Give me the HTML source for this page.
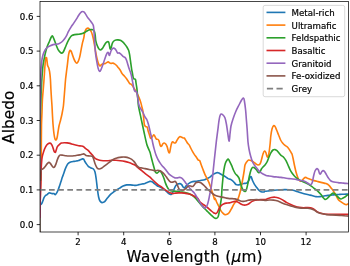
<!DOCTYPE html><html><head><meta charset="utf-8"><title>Albedo</title>
<style>html,body{margin:0;padding:0;background:#fff}svg{display:block}text{font-family:"DejaVu Sans","Liberation Sans",sans-serif;fill:#000;stroke:#000;stroke-width:0.18px}</style></head><body>
<svg width="350" height="266" viewBox="0 0 350 266" style="filter:blur(0.38px)">
<rect width="350" height="266" fill="#fff"/>
<defs><clipPath id="c"><rect x="40.0" y="1.5" width="308.6" height="230.5"/></clipPath></defs>
<g clip-path="url(#c)" fill="none" stroke-linejoin="round" stroke-linecap="butt" stroke-width="1.62">
<path d="M39.40 210.50C39.51 209.65 39.66 208.35 39.80 207.50C39.92 206.79 39.98 205.65 40.30 205.00C40.55 204.50 41.41 204.08 41.70 203.60C42.16 202.84 42.58 201.53 42.90 200.70C43.20 199.91 43.54 198.66 43.90 197.90C44.22 197.23 44.79 196.23 45.30 195.70C45.72 195.27 46.63 194.97 47.10 194.60C47.65 194.17 48.26 193.20 48.90 192.90C49.26 192.73 49.91 193.01 50.30 193.10C50.79 193.21 51.50 193.53 52.00 193.60C52.53 193.67 53.38 193.44 53.90 193.60C54.37 193.74 54.83 194.72 55.30 194.60C55.91 194.45 56.38 193.43 56.70 192.90C57.17 192.12 57.76 190.85 58.10 190.00C58.58 188.80 59.19 186.92 59.60 185.70C60.01 184.49 60.60 182.62 61.00 181.40C61.40 180.18 61.98 178.31 62.40 177.10C62.75 176.10 63.35 174.60 63.70 173.60C64.09 172.47 64.57 170.71 65.00 169.60C65.48 168.36 66.25 166.47 66.90 165.30C67.28 164.61 68.01 163.62 68.60 163.10C69.11 162.66 70.06 162.22 70.70 162.00C71.49 161.73 72.77 161.54 73.60 161.40C74.39 161.26 75.61 161.13 76.40 161.00C77.03 160.90 78.00 160.80 78.60 160.60C79.23 160.40 80.09 159.86 80.70 159.60C81.23 159.38 82.03 159.00 82.60 158.90C82.88 158.85 83.40 158.89 83.60 159.10C84.02 159.54 84.29 160.47 84.60 161.00C85.09 161.84 85.85 163.11 86.40 163.90C86.90 164.61 87.68 165.70 88.30 166.30C88.71 166.70 89.51 167.09 90.00 167.40C90.28 167.58 90.70 167.86 91.00 168.00C91.67 168.31 92.88 168.48 93.40 169.00C94.08 169.68 94.74 171.07 95.00 172.00C95.54 173.94 95.92 177.01 96.20 179.00C96.60 181.83 97.02 186.17 97.40 189.00C97.70 191.27 98.11 194.76 98.60 197.00C98.85 198.17 99.38 199.97 100.00 201.00C100.38 201.62 101.30 202.42 102.00 202.60C102.57 202.74 103.44 202.19 104.00 202.00C104.18 201.94 104.48 201.84 104.60 201.70C105.45 200.73 106.59 199.11 107.40 198.10C108.21 197.10 109.39 195.51 110.30 194.60C111.01 193.89 112.29 193.01 113.10 192.40C113.91 191.79 115.15 190.86 116.00 190.30C117.00 189.64 118.58 188.72 119.60 188.10C120.59 187.50 122.05 186.48 123.10 186.00C124.07 185.56 125.65 185.06 126.70 184.90C127.71 184.75 129.28 184.84 130.30 184.90C131.32 184.96 132.88 185.21 133.90 185.30C134.49 185.35 135.41 185.48 136.00 185.40C136.87 185.28 138.14 184.80 139.00 184.60C139.84 184.40 141.15 184.17 142.00 184.00C142.85 183.83 144.18 183.67 145.00 183.40C146.45 182.93 148.52 181.76 150.00 181.40C150.58 181.26 151.56 181.43 152.10 181.70C152.83 182.08 153.66 183.09 154.30 183.60C155.07 184.22 156.25 185.18 157.10 185.70C157.88 186.18 159.18 186.69 160.00 187.10C160.83 187.51 162.12 188.11 162.90 188.60C163.74 189.13 164.95 190.05 165.70 190.70C166.37 191.27 167.22 192.33 167.90 192.90C168.45 193.36 169.34 194.03 170.00 194.30C170.37 194.45 171.08 194.54 171.40 194.30C172.00 193.84 172.56 192.77 172.90 192.10C173.38 191.15 173.87 189.58 174.30 188.60C174.67 187.76 175.14 186.42 175.70 185.70C176.19 185.08 177.19 184.35 177.90 184.00C178.44 183.73 179.40 183.51 180.00 183.60C180.55 183.69 181.33 184.18 181.70 184.60C182.24 185.21 182.60 186.46 183.10 187.10C183.35 187.42 183.91 188.01 184.30 187.90C184.86 187.75 185.30 186.82 185.70 186.40C186.18 185.89 186.88 185.07 187.40 184.60C187.91 184.14 188.72 183.46 189.30 183.10C189.86 182.75 190.78 182.31 191.40 182.10C192.20 181.83 193.46 181.53 194.30 181.40C194.78 181.33 195.52 181.47 196.00 181.40C196.84 181.27 198.07 180.86 198.90 180.70C199.69 180.55 200.91 180.44 201.70 180.30C202.53 180.16 203.80 179.94 204.60 179.70C205.42 179.46 206.63 178.98 207.40 178.60C208.25 178.18 209.54 177.47 210.30 176.90C211.16 176.25 212.21 174.92 213.10 174.30C213.85 173.78 215.15 173.24 216.00 172.90C216.38 172.75 217.00 172.57 217.40 172.60C217.85 172.63 218.49 172.91 218.90 173.10C219.52 173.39 220.39 173.98 221.00 174.30C221.81 174.72 223.10 175.25 223.90 175.70C224.52 176.05 225.41 176.69 226.00 177.10C226.60 177.52 227.45 178.27 228.10 178.60C228.68 178.90 229.71 179.01 230.30 179.30C230.94 179.61 231.85 180.24 232.40 180.70C233.08 181.27 234.00 182.25 234.60 182.90C235.02 183.36 235.43 184.34 236.00 184.60C236.75 184.95 238.08 185.00 238.90 184.90C239.74 184.80 240.89 184.11 241.70 183.90C242.51 183.69 243.78 183.53 244.60 183.40C245.19 183.31 246.21 183.45 246.70 183.10C247.52 182.51 248.39 181.17 248.90 180.30C249.42 179.40 249.74 177.78 250.30 176.90C250.44 176.68 251.06 176.48 251.20 176.70C251.76 177.61 251.97 179.31 252.40 180.30C252.94 181.56 253.89 183.43 254.60 184.60C255.11 185.45 256.10 186.61 256.70 187.40C257.32 188.22 258.17 189.57 258.90 190.30C259.41 190.81 260.32 191.47 261.00 191.70C261.78 191.97 263.08 192.08 263.90 192.00C264.27 191.96 264.64 191.38 265.00 191.30C266.11 191.06 267.87 191.01 269.00 190.90C270.13 190.79 271.87 190.63 273.00 190.50C274.13 190.37 275.86 190.11 277.00 190.00C278.13 189.89 279.86 189.76 281.00 189.70C282.13 189.64 283.87 189.60 285.00 189.60C286.13 189.60 287.87 189.60 289.00 189.70C290.14 189.80 291.88 190.06 293.00 190.30C293.87 190.49 295.16 190.92 296.00 191.20C297.14 191.57 298.85 192.24 300.00 192.60C301.12 192.95 302.86 193.41 304.00 193.70C305.30 194.03 307.29 194.51 308.60 194.80C309.56 195.02 311.04 195.27 312.00 195.50C313.14 195.78 314.84 196.44 316.00 196.60C317.12 196.75 318.87 196.68 320.00 196.60C321.14 196.51 322.87 196.17 324.00 196.00C325.13 195.83 326.86 195.54 328.00 195.40C329.13 195.26 330.87 195.11 332.00 195.00C333.13 194.89 334.86 194.69 336.00 194.60C337.13 194.52 338.87 194.46 340.00 194.40C341.13 194.34 342.87 194.25 344.00 194.20C345.30 194.14 347.30 194.06 348.60 194.00" stroke="#1f77b4"/>
<path d="M40.00 232.00C40.00 222.93 39.90 209.07 40.00 200.00C40.05 195.75 40.35 189.25 40.50 185.00C40.67 180.18 40.99 172.82 41.10 168.00C41.22 162.90 41.25 155.10 41.30 150.00C41.37 142.92 41.37 132.08 41.50 125.00C41.57 121.31 41.87 115.68 42.00 112.00C42.12 108.52 42.22 103.18 42.40 99.70C42.53 97.26 42.90 93.54 43.10 91.10C43.33 88.27 43.68 83.93 43.90 81.10C44.05 79.09 44.26 76.01 44.40 74.00C44.57 71.45 44.78 67.55 45.00 65.00C45.18 62.96 45.39 59.81 45.80 57.80C45.84 57.60 46.43 57.41 46.50 57.60C46.87 58.65 46.95 60.39 47.10 61.50C47.26 62.63 47.32 64.39 47.60 65.50C47.75 66.11 48.41 66.90 48.60 67.50C48.98 68.66 49.41 70.49 49.60 71.70C49.92 73.76 50.24 76.93 50.40 79.00C50.61 81.83 50.74 86.17 50.90 89.00C51.06 91.83 51.32 96.17 51.50 99.00C51.63 100.98 51.88 104.02 52.00 106.00C52.14 108.27 52.27 111.73 52.40 114.00C52.56 116.83 52.77 121.17 53.00 124.00C53.23 126.84 53.62 131.18 54.00 134.00C54.19 135.43 54.54 137.63 55.00 139.00C55.13 139.38 55.64 140.18 56.00 140.00C56.57 139.72 56.85 138.61 57.00 138.00C57.42 136.33 57.72 133.70 58.00 132.00C58.28 130.30 58.64 127.68 59.00 126.00C59.37 124.28 60.17 121.71 60.60 120.00C61.02 118.31 61.66 115.71 62.00 114.00C62.45 111.74 63.10 108.28 63.40 106.00C63.66 104.03 63.84 100.98 64.00 99.00C64.23 96.17 64.57 91.83 64.80 89.00C65.03 86.17 65.32 81.83 65.60 79.00C65.86 76.44 66.38 72.55 66.70 70.00C66.89 68.47 67.21 66.13 67.40 64.60C67.75 61.77 68.09 57.41 68.60 54.60C68.83 53.34 69.29 51.37 70.00 50.30C70.19 50.01 70.83 50.70 71.00 51.00C71.53 51.96 72.02 53.57 72.40 54.60C72.84 55.81 73.41 57.71 73.90 58.90C74.24 59.72 74.81 60.96 75.30 61.70C75.61 62.17 76.14 63.10 76.70 63.10C77.26 63.10 77.85 62.20 78.10 61.70C78.69 60.55 79.28 58.65 79.60 57.40C80.11 55.41 80.61 52.31 81.00 50.30C81.40 48.26 81.94 45.13 82.40 43.10C82.77 41.47 83.55 39.03 83.90 37.40C84.17 36.14 84.28 34.15 84.60 32.90C84.87 31.84 85.41 30.22 86.00 29.30C86.32 28.80 87.11 28.10 87.70 28.10C88.34 28.10 89.16 28.84 89.60 29.30C90.23 29.97 91.01 31.17 91.40 32.00C91.87 33.00 92.31 34.64 92.60 35.70C92.93 36.91 93.35 38.77 93.60 40.00C93.89 41.41 94.26 43.58 94.50 45.00C94.82 46.90 95.25 49.81 95.60 51.70C95.98 53.75 96.60 56.88 97.10 58.90C97.45 60.34 98.04 62.53 98.60 63.90C98.87 64.56 99.31 65.83 100.00 66.00C100.54 66.14 100.94 64.91 101.40 64.60C101.83 64.31 102.60 64.05 103.10 63.90C103.71 63.71 104.70 63.62 105.30 63.40C105.85 63.20 106.60 62.70 107.10 62.40C107.40 62.22 107.76 61.63 108.10 61.70C108.63 61.81 109.13 62.62 109.60 62.90C109.96 63.11 110.58 63.37 111.00 63.40C111.54 63.43 112.36 63.03 112.90 63.10C113.43 63.17 114.15 63.61 114.60 63.90C115.12 64.24 115.86 64.86 116.30 65.30C116.85 65.85 117.61 66.79 118.10 67.40C118.74 68.21 119.74 69.43 120.30 70.30C120.88 71.19 121.49 72.73 122.10 73.60C122.63 74.36 123.70 75.30 124.30 76.00C124.92 76.72 125.84 77.84 126.40 78.60C126.97 79.37 127.77 80.60 128.30 81.40C128.71 82.02 129.16 83.10 129.70 83.60C130.08 83.96 131.01 83.96 131.40 84.30C131.95 84.78 132.49 85.79 132.90 86.40C133.31 87.01 133.91 87.97 134.30 88.60C134.79 89.39 135.54 90.59 136.00 91.40C136.57 92.41 137.41 93.96 137.90 95.00C138.46 96.20 139.24 98.06 139.70 99.30C140.15 100.50 140.75 102.37 141.10 103.60C141.37 104.55 141.67 106.04 141.90 107.00C142.18 108.16 142.71 109.92 142.90 111.10C143.22 113.13 143.47 116.26 143.70 118.30C143.90 120.11 143.97 122.93 144.40 124.70C144.55 125.33 145.19 126.19 145.70 126.60C146.01 126.86 146.89 126.55 147.10 126.90C147.63 127.78 147.71 129.42 148.00 130.40C148.36 131.63 149.00 133.48 149.40 134.70C149.74 135.75 150.03 137.46 150.60 138.40C150.73 138.62 151.23 138.19 151.40 138.00C151.90 137.46 152.43 136.46 152.90 135.90C153.17 135.58 153.60 134.77 154.00 134.90C154.53 135.08 154.72 136.11 155.00 136.60C155.40 137.30 155.82 138.54 156.40 139.10C156.71 139.40 157.53 139.18 157.90 139.40C158.28 139.63 158.73 140.19 158.90 140.60C159.25 141.44 159.43 142.83 159.70 143.70C159.94 144.45 160.17 145.72 160.70 146.30C160.91 146.53 161.50 146.13 161.70 145.90C162.16 145.36 162.43 144.23 162.90 143.70C163.20 143.37 163.86 142.95 164.30 143.00C164.78 143.05 165.40 143.62 165.70 144.00C166.21 144.66 166.80 145.82 167.10 146.60C167.55 147.78 167.89 149.70 168.30 150.90C168.51 151.52 168.64 153.00 169.30 153.00C169.93 153.00 169.86 151.51 170.00 150.90C170.37 149.27 170.70 146.72 171.10 145.10C171.30 144.28 171.64 143.01 172.10 142.30C172.26 142.05 172.82 141.91 173.10 142.00C173.52 142.13 173.87 142.90 174.30 143.00C174.70 143.09 175.41 142.90 175.70 142.60C176.26 142.02 176.69 140.80 177.10 140.10C177.51 139.41 178.09 138.32 178.60 137.70C178.92 137.31 179.50 136.66 180.00 136.60C180.52 136.53 181.23 137.09 181.70 137.30C182.10 137.48 182.67 137.88 183.10 138.00C183.43 138.09 184.04 137.79 184.30 138.00C184.86 138.45 185.32 139.49 185.70 140.10C186.20 140.91 186.84 142.23 187.40 143.00C187.87 143.65 188.86 144.43 189.30 145.10C189.80 145.86 190.29 147.19 190.70 148.00C191.22 149.03 192.03 150.59 192.60 151.60C193.06 152.41 193.79 153.63 194.30 154.40C194.86 155.24 195.82 156.47 196.40 157.30C196.95 158.08 197.62 159.42 198.30 160.10C198.57 160.37 199.39 160.18 199.60 160.50C200.22 161.47 200.60 163.23 201.00 164.30C201.53 165.72 202.35 167.89 202.90 169.30C203.45 170.72 204.27 172.91 204.90 174.30C205.46 175.55 206.50 177.37 207.10 178.60C207.69 179.81 208.59 181.66 209.10 182.90C209.58 184.07 210.19 185.90 210.60 187.10C211.01 188.31 211.60 190.18 212.00 191.40C212.40 192.62 213.01 194.48 213.40 195.70C213.75 196.78 213.99 198.55 214.60 199.50C214.81 199.82 214.74 197.91 215.00 198.20C215.68 198.95 215.97 200.58 216.40 201.50C216.99 202.79 217.98 204.72 218.60 206.00C219.20 207.22 220.00 209.14 220.70 210.30C221.22 211.16 222.19 212.39 222.90 213.10C223.42 213.62 224.30 214.40 225.00 214.60C225.58 214.77 226.56 214.57 227.10 214.30C227.83 213.92 228.79 213.04 229.30 212.40C230.02 211.50 230.84 209.91 231.40 208.90C232.06 207.70 232.90 205.77 233.60 204.60C234.12 203.73 235.07 202.49 235.70 201.70C236.20 201.07 237.20 200.29 237.60 199.60C238.15 198.65 238.66 197.04 239.00 196.00C239.46 194.60 240.06 192.43 240.40 191.00C240.74 189.60 241.12 187.42 241.40 186.00C241.68 184.58 242.13 182.42 242.40 181.00C242.70 179.44 243.13 177.06 243.40 175.50C243.67 173.94 244.06 171.56 244.30 170.00C244.52 168.59 244.60 166.37 245.00 165.00C245.27 164.07 246.04 162.78 246.60 162.00C247.07 161.35 247.84 160.24 248.60 160.00C249.27 159.79 250.35 160.33 251.00 160.60C251.73 160.90 252.75 161.56 253.40 162.00C254.17 162.52 255.22 163.49 256.00 164.00C256.53 164.35 257.37 165.00 258.00 165.00C258.63 165.00 259.64 164.52 260.00 164.00C260.68 163.01 261.05 161.15 261.40 160.00C261.91 158.31 262.41 155.66 263.00 154.00C263.32 153.09 263.69 151.30 264.60 151.00C265.26 150.78 265.71 152.37 266.00 153.00C266.51 154.09 266.45 156.27 267.40 157.00C267.92 157.40 268.42 155.64 268.60 155.00C268.99 153.62 269.21 151.42 269.40 150.00C269.66 148.02 270.00 144.99 270.20 143.00C270.40 141.02 270.55 137.97 270.80 136.00C271.06 134.00 271.48 130.94 272.00 129.00C272.28 127.97 272.80 126.30 273.60 125.60C273.95 125.30 274.74 126.02 275.00 126.40C275.63 127.32 276.17 128.97 276.60 130.00C277.19 131.41 278.03 133.58 278.60 135.00C279.17 136.42 279.92 138.64 280.60 140.00C281.06 140.91 281.95 142.21 282.60 143.00C283.21 143.75 284.26 144.78 285.00 145.40C285.63 145.92 286.81 146.44 287.40 147.00C288.07 147.64 288.88 148.83 289.40 149.60C289.91 150.36 290.54 151.61 291.00 152.40C291.27 152.86 291.82 153.50 292.00 154.00C292.39 155.10 292.75 156.86 293.00 158.00C293.43 159.98 293.98 163.02 294.40 165.00C294.83 166.99 295.46 170.04 296.00 172.00C296.48 173.73 297.27 176.36 298.00 178.00C298.41 178.93 299.14 180.44 300.00 181.00C300.48 181.31 301.52 180.92 302.00 180.60C302.60 180.20 303.06 179.08 303.60 178.60C304.09 178.16 304.94 177.40 305.60 177.40C306.36 177.40 307.30 178.31 308.00 178.60C308.83 178.94 310.15 179.32 311.00 179.60C311.85 179.88 313.14 180.35 314.00 180.60C315.12 180.92 316.87 181.32 318.00 181.60C319.13 181.88 320.87 182.32 322.00 182.60C323.13 182.88 324.92 183.17 326.00 183.60C326.92 183.97 328.26 184.74 329.00 185.40C329.87 186.18 330.89 187.67 331.60 188.60C332.19 189.37 333.06 190.59 333.60 191.40C334.19 192.29 335.06 193.68 335.60 194.60C336.48 196.11 337.53 198.62 338.60 200.00C339.21 200.78 340.59 201.53 341.40 202.10C342.20 202.66 343.42 203.56 344.30 204.00C344.85 204.28 345.78 204.66 346.40 204.60C347.08 204.54 347.98 203.88 348.60 203.60" stroke="#ff7f0e"/>
<path d="M39.70 232.00C39.70 207.35 39.61 169.65 39.70 145.00C39.72 138.48 39.95 128.52 40.10 122.00C40.18 118.60 40.38 113.40 40.50 110.00C40.60 107.17 40.79 102.83 40.90 100.00C41.01 97.17 41.17 92.83 41.30 90.00C41.40 87.73 41.57 84.27 41.70 82.00C41.82 79.85 42.03 76.55 42.20 74.40C42.42 71.62 42.73 67.36 43.10 64.60C43.41 62.29 44.13 58.79 44.60 56.50C44.95 54.79 45.55 52.19 46.00 50.50C46.34 49.21 46.93 47.25 47.40 46.00C47.95 44.55 48.98 42.42 49.60 41.00C50.09 39.87 50.70 38.07 51.30 37.00C51.51 36.63 52.06 35.75 52.40 36.00C53.15 36.55 53.54 38.05 53.90 38.90C54.56 40.49 55.37 43.00 56.00 44.60C56.56 46.03 57.36 48.25 58.10 49.60C58.59 50.48 59.58 51.70 60.30 52.40C60.62 52.71 61.27 53.20 61.70 53.10C62.31 52.96 63.07 52.23 63.40 51.70C64.11 50.57 64.77 48.62 65.30 47.40C65.91 45.99 66.74 43.79 67.40 42.40C67.96 41.21 68.90 39.41 69.60 38.30C70.12 37.48 70.92 36.18 71.70 35.60C72.40 35.08 73.74 34.75 74.60 34.60C75.80 34.38 77.69 34.46 78.90 34.30C79.90 34.17 81.44 33.93 82.40 33.60C83.27 33.30 84.50 32.56 85.30 32.10C85.92 31.74 86.78 31.05 87.40 30.70C88.00 30.37 88.94 29.87 89.60 29.70C90.18 29.55 91.11 29.55 91.70 29.60C92.19 29.64 93.03 29.68 93.40 30.00C93.92 30.45 94.39 31.45 94.60 32.10C94.94 33.17 95.15 34.89 95.30 36.00C95.46 37.21 95.47 39.10 95.70 40.30C95.98 41.74 96.59 43.92 97.10 45.30C97.50 46.37 98.26 47.96 98.90 48.90C99.18 49.32 99.80 50.00 100.30 50.00C100.87 50.00 101.62 49.33 102.00 48.90C102.66 48.17 103.37 46.83 103.90 46.00C104.42 45.18 105.09 43.85 105.70 43.10C106.09 42.62 106.82 41.92 107.40 41.70C107.73 41.58 108.41 41.71 108.60 42.00C109.02 42.64 109.14 43.85 109.30 44.60C109.54 45.73 109.68 47.49 110.00 48.60C110.06 48.81 110.47 49.28 110.60 49.10C111.03 48.52 111.19 47.39 111.40 46.70C111.70 45.69 111.97 44.07 112.40 43.10C112.69 42.43 113.35 41.48 113.90 41.00C114.40 40.57 115.36 40.17 116.00 40.00C116.58 39.85 117.51 39.86 118.10 39.90C118.73 39.94 119.72 40.06 120.30 40.30C120.96 40.58 121.85 41.24 122.40 41.70C123.08 42.27 124.03 43.23 124.60 43.90C125.25 44.65 126.17 45.86 126.70 46.70C127.31 47.68 128.20 49.22 128.60 50.30C129.03 51.47 129.38 53.37 129.60 54.60C129.86 56.01 130.10 58.18 130.30 59.60C130.50 61.02 130.80 63.18 131.00 64.60C131.20 66.02 131.46 68.19 131.70 69.60C131.86 70.57 132.22 72.03 132.40 73.00C132.64 74.27 132.88 76.25 133.20 77.50C133.30 77.91 133.58 78.54 133.90 78.80C134.25 79.08 135.20 78.90 135.40 79.30C135.87 80.22 135.84 81.88 136.00 82.90C136.26 84.51 136.70 86.98 136.90 88.60C137.10 90.21 137.26 92.69 137.40 94.30C137.54 95.91 137.75 98.39 137.90 100.00C138.06 101.70 138.21 104.32 138.50 106.00C139.09 109.42 140.28 114.60 141.00 118.00C141.84 121.97 143.12 128.04 144.00 132.00C144.82 135.69 145.93 141.37 147.00 145.00C147.63 147.14 149.25 150.19 150.00 152.30C150.42 153.49 150.79 155.38 151.10 156.60C151.38 157.71 151.81 159.40 152.10 160.50C152.38 161.58 152.81 163.23 153.10 164.30C153.43 165.52 153.94 167.39 154.30 168.60C154.59 169.60 154.88 171.20 155.40 172.10C155.66 172.54 156.39 173.10 156.90 173.10C157.39 173.10 157.90 172.38 158.30 172.10C158.70 171.82 159.21 171.10 159.70 171.10C160.19 171.10 160.81 171.71 161.10 172.10C161.65 172.84 162.22 174.16 162.60 175.00C163.05 176.00 163.63 177.57 164.00 178.60C164.43 179.81 164.95 181.70 165.40 182.90C165.78 183.91 166.42 185.44 166.90 186.40C167.33 187.25 167.97 188.59 168.60 189.30C169.07 189.84 170.03 190.46 170.70 190.70C171.48 190.98 172.78 191.00 173.60 191.10C174.39 191.20 175.61 191.32 176.40 191.40C177.22 191.49 178.48 191.60 179.30 191.70C180.10 191.80 181.31 191.98 182.10 192.10C182.92 192.23 184.18 192.43 185.00 192.60C185.83 192.77 187.10 193.03 187.90 193.30C188.72 193.57 189.93 194.10 190.70 194.50C191.36 194.84 192.30 195.47 192.90 195.90C193.52 196.35 194.46 197.06 195.00 197.60C195.63 198.23 196.42 199.33 197.00 200.00C198.12 201.31 199.85 203.31 201.00 204.60C202.12 205.86 203.84 207.78 205.00 209.00C205.83 209.87 207.15 211.15 208.00 212.00C208.85 212.85 210.12 214.18 211.00 215.00C211.82 215.77 213.07 216.97 214.00 217.60C214.50 217.94 215.40 218.49 216.00 218.40C216.68 218.30 217.69 217.62 218.00 217.00C218.65 215.70 218.93 213.43 219.20 212.00C219.58 210.03 219.99 206.98 220.30 205.00C220.61 203.02 221.19 200.00 221.40 198.00C221.68 195.35 221.79 191.26 222.00 188.60C222.22 185.76 222.61 181.43 222.90 178.60C223.15 176.16 223.51 172.42 223.90 170.00C224.19 168.17 224.73 165.37 225.30 163.60C225.65 162.51 226.44 160.93 227.10 160.00C227.35 159.65 228.02 158.99 228.40 159.20C229.02 159.55 229.28 160.77 229.60 161.40C230.21 162.61 231.15 164.46 231.70 165.70C232.23 166.90 232.86 168.81 233.40 170.00C233.88 171.05 234.64 172.66 235.30 173.60C235.78 174.29 236.86 175.05 237.40 175.70C237.88 176.28 238.59 177.21 238.90 177.90C239.33 178.85 239.71 180.40 240.00 181.40C240.42 182.81 240.90 185.02 241.40 186.40C241.78 187.46 242.41 189.10 243.10 190.00C243.56 190.60 244.57 191.71 245.30 191.50C246.07 191.28 246.36 189.76 246.60 189.00C247.13 187.34 247.63 184.71 248.00 183.00C248.43 181.02 248.95 177.97 249.40 176.00C249.80 174.29 250.39 171.65 251.00 170.00C251.30 169.19 251.84 167.82 252.60 167.40C253.12 167.11 254.10 167.68 254.60 168.00C255.27 168.44 256.07 169.40 256.60 170.00C257.21 170.70 257.80 172.13 258.60 172.60C258.97 172.82 259.74 172.34 260.00 172.00C260.58 171.26 260.92 169.80 261.40 169.00C261.77 168.38 262.51 167.54 263.00 167.00C263.54 166.40 264.50 165.63 265.00 165.00C265.64 164.20 266.54 162.91 267.00 162.00C267.68 160.64 268.40 158.40 269.00 157.00C269.54 155.74 270.32 153.79 271.00 152.60C271.46 151.79 272.26 150.56 273.00 150.00C273.46 149.65 274.43 149.51 275.00 149.60C275.63 149.69 276.52 150.19 277.00 150.60C277.67 151.17 278.43 152.32 279.00 153.00C279.57 153.68 280.35 154.80 281.00 155.40C281.60 155.95 282.83 156.41 283.40 157.00C284.27 157.91 285.37 159.51 286.00 160.60C286.68 161.79 287.44 163.75 288.00 165.00C288.58 166.30 289.36 168.33 290.00 169.60C290.50 170.60 291.37 172.08 292.00 173.00C292.62 173.90 293.66 175.20 294.40 176.00C295.08 176.74 296.21 177.78 297.00 178.40C297.80 179.03 299.11 179.90 300.00 180.40C300.82 180.86 302.14 181.43 303.00 181.80C303.84 182.16 305.17 182.61 306.00 183.00C306.87 183.41 308.17 184.10 309.00 184.60C309.88 185.13 311.18 186.00 312.00 186.60C312.88 187.24 314.15 188.32 315.00 189.00C315.85 189.68 317.20 190.66 318.00 191.40C318.91 192.25 320.20 193.65 321.00 194.60C321.62 195.35 322.38 196.65 323.00 197.40C323.51 198.02 324.23 199.17 325.00 199.40C325.58 199.58 326.50 198.95 327.00 198.60C327.66 198.14 328.43 197.17 329.00 196.60C329.57 196.03 330.40 195.14 331.00 194.60C331.54 194.11 332.28 193.11 333.00 193.00C333.63 192.91 334.49 193.62 335.00 194.00C335.64 194.48 336.43 195.43 337.00 196.00C337.57 196.57 338.36 197.52 339.00 198.00C339.51 198.38 340.37 199.00 341.00 199.00C341.63 199.00 342.43 198.28 343.00 198.00C343.57 197.72 344.47 197.35 345.00 197.00C345.61 196.60 346.40 195.80 347.00 195.40C347.42 195.12 348.15 194.83 348.60 194.60" stroke="#2ca02c"/>
<path d="M40.00 218.00C40.06 213.47 40.10 206.53 40.20 202.00C40.27 199.17 40.50 194.83 40.60 192.00C40.70 189.17 40.83 184.83 40.90 182.00C40.97 179.17 41.02 174.83 41.10 172.00C41.16 169.90 41.26 166.69 41.40 164.60C41.54 162.56 41.76 159.42 42.10 157.40C42.38 155.75 43.07 153.28 43.60 151.70C44.09 150.24 44.96 148.05 45.70 146.70C46.19 145.82 47.13 144.55 47.90 143.90C48.39 143.49 49.37 142.98 50.00 143.10C50.63 143.22 51.36 144.05 51.70 144.60C52.26 145.51 52.73 147.10 53.10 148.10C53.47 149.11 53.81 150.74 54.30 151.70C54.46 152.01 55.03 152.61 55.30 152.40C55.80 152.01 55.88 150.90 56.10 150.30C56.47 149.28 56.87 147.65 57.40 146.70C57.79 146.00 58.70 145.14 59.30 144.60C59.84 144.11 60.72 143.36 61.40 143.10C62.18 142.81 63.47 142.73 64.30 142.70C65.09 142.67 66.31 142.80 67.10 142.90C67.93 143.00 69.19 143.20 70.00 143.40C70.84 143.60 72.07 144.07 72.90 144.30C73.69 144.52 74.91 144.80 75.70 145.00C76.52 145.20 77.77 145.55 78.60 145.70C79.39 145.84 80.62 145.84 81.40 146.00C82.04 146.13 83.04 146.36 83.60 146.70C84.29 147.12 85.07 148.10 85.70 148.60C86.35 149.12 87.49 149.73 88.10 150.30C88.80 150.96 89.65 152.19 90.30 152.90C90.87 153.52 91.85 154.36 92.40 155.00C93.07 155.78 93.87 157.17 94.60 157.90C95.11 158.41 96.06 158.99 96.70 159.30C97.48 159.68 98.75 160.11 99.60 160.30C100.58 160.51 102.10 160.65 103.10 160.70C104.32 160.76 106.18 160.76 107.40 160.70C108.62 160.64 110.48 160.36 111.70 160.30C112.92 160.24 114.78 160.24 116.00 160.30C117.22 160.36 119.09 160.54 120.30 160.70C121.52 160.86 123.39 161.13 124.60 161.40C125.84 161.67 127.70 162.20 128.90 162.60C129.91 162.94 131.42 163.57 132.40 164.00C133.43 164.45 135.06 165.08 136.00 165.70C136.39 165.95 136.65 166.70 137.00 167.00C138.07 167.92 139.89 169.12 141.00 170.00C142.16 170.93 143.83 172.48 145.00 173.40C146.38 174.49 148.64 175.97 150.00 177.10C150.66 177.65 151.49 178.69 152.10 179.30C152.91 180.11 154.16 181.33 155.00 182.10C155.80 182.83 157.03 183.95 157.90 184.60C158.65 185.17 159.93 185.86 160.70 186.40C161.54 186.99 162.78 187.98 163.60 188.60C164.39 189.20 165.59 190.13 166.40 190.70C167.01 191.12 167.95 191.74 168.60 192.10C169.18 192.42 170.08 192.88 170.70 193.10C171.30 193.31 172.26 193.60 172.90 193.60C173.71 193.60 174.90 193.20 175.70 193.10C176.52 193.00 177.78 192.93 178.60 192.90C179.39 192.87 180.61 192.87 181.40 192.90C182.22 192.93 183.48 193.00 184.30 193.10C185.10 193.20 186.31 193.43 187.10 193.60C187.93 193.77 189.19 194.05 190.00 194.30C190.84 194.56 192.10 195.04 192.90 195.40C193.72 195.77 194.94 196.43 195.70 196.90C196.36 197.31 197.40 197.91 197.90 198.50C198.65 199.38 199.21 201.16 200.00 202.00C200.97 203.03 202.87 204.15 204.00 205.00C205.13 205.85 206.90 207.11 208.00 208.00C209.00 208.81 210.41 210.18 211.40 211.00C212.11 211.59 213.22 212.50 214.00 213.00C214.25 213.16 214.72 213.22 215.00 213.30C215.28 213.39 215.72 213.69 216.00 213.60C216.40 213.47 216.86 212.94 217.10 212.60C217.49 212.05 217.90 211.10 218.20 210.50C218.53 209.83 218.91 208.74 219.30 208.10C219.82 207.26 220.69 205.99 221.40 205.30C221.93 204.78 222.92 204.20 223.60 203.90C224.36 203.57 225.59 203.24 226.40 203.10C227.21 202.96 228.49 203.06 229.30 202.90C230.12 202.74 231.29 202.21 232.10 202.00C232.91 201.79 234.16 201.45 235.00 201.40C235.60 201.36 236.53 201.50 237.10 201.70C237.77 201.93 238.69 202.53 239.30 202.90C239.91 203.27 240.76 203.99 241.40 204.30C241.99 204.59 242.95 204.89 243.60 205.00C244.19 205.10 245.11 205.10 245.70 205.00C246.35 204.89 247.31 204.59 247.90 204.30C248.54 203.99 249.41 203.31 250.00 202.90C250.60 202.48 251.45 201.74 252.10 201.40C252.88 200.99 254.15 200.52 255.00 200.30C255.80 200.09 257.08 200.00 257.90 199.90C258.69 199.80 259.90 199.63 260.70 199.60C261.92 199.55 263.79 199.77 265.00 199.60C265.86 199.48 267.07 198.87 267.90 198.60C268.89 198.28 270.38 197.70 271.40 197.50C272.40 197.30 273.98 197.14 275.00 197.20C276.04 197.26 277.62 197.57 278.60 197.90C279.64 198.25 281.15 199.05 282.10 199.60C283.36 200.33 285.14 201.67 286.40 202.40C287.58 203.09 289.45 204.03 290.70 204.60C291.89 205.14 293.75 205.89 295.00 206.30C296.20 206.69 298.06 207.18 299.30 207.40C300.51 207.61 302.38 207.79 303.60 207.80C304.82 207.81 306.68 207.50 307.90 207.50C308.70 207.50 309.93 207.60 310.70 207.80C311.56 208.03 312.82 208.58 313.60 209.00C314.19 209.32 314.97 209.99 315.50 210.40C315.93 210.73 316.53 211.33 317.00 211.60C317.81 212.07 319.11 212.70 320.00 213.00C321.11 213.38 322.85 213.80 324.00 214.00C325.12 214.20 326.86 214.34 328.00 214.40C329.13 214.46 330.87 214.40 332.00 214.40C334.27 214.40 337.73 214.40 340.00 214.40C342.44 214.40 346.16 214.40 348.60 214.40" stroke="#d62728"/>
<path d="M39.70 232.00C39.70 204.52 39.63 162.48 39.70 135.00C39.72 128.48 39.89 118.52 40.00 112.00C40.06 108.60 40.23 103.40 40.30 100.00C40.43 93.77 40.47 84.23 40.70 78.00C40.87 73.38 41.23 66.30 41.70 61.70C41.91 59.66 42.52 56.57 43.10 54.60C43.54 53.12 44.51 50.93 45.30 49.60C45.74 48.86 46.72 47.93 47.40 47.40C48.15 46.81 49.45 46.12 50.30 45.70C51.07 45.32 52.27 44.80 53.10 44.60C53.90 44.40 55.18 44.43 56.00 44.30C56.83 44.17 58.12 44.01 58.90 43.70C59.76 43.35 61.00 42.61 61.70 42.00C62.64 41.18 63.85 39.69 64.60 38.70C65.27 37.82 66.18 36.38 66.70 35.40C67.18 34.50 67.63 33.00 68.10 32.10C68.85 30.65 70.13 28.49 71.00 27.10C71.77 25.88 73.09 24.10 73.90 22.90C74.71 21.69 75.92 19.83 76.70 18.60C77.34 17.59 78.23 15.99 78.90 15.00C79.34 14.35 80.08 13.39 80.60 12.80C80.88 12.48 81.34 12.01 81.70 11.80C81.98 11.64 82.48 11.50 82.80 11.50C83.12 11.50 83.65 11.59 83.90 11.80C84.39 12.22 84.94 13.06 85.30 13.60C85.94 14.57 86.73 16.15 87.40 17.10C88.15 18.17 89.50 19.66 90.30 20.70C90.92 21.50 91.87 22.74 92.40 23.60C92.75 24.16 93.25 25.06 93.40 25.70C93.68 26.89 93.79 28.78 93.90 30.00C94.05 31.70 94.20 34.30 94.30 36.00C94.45 38.44 94.63 42.17 94.80 44.60C94.97 47.01 95.22 50.70 95.50 53.10C95.79 55.55 96.38 59.27 96.80 61.70C97.12 63.52 97.59 66.32 98.10 68.10C98.38 69.09 98.69 70.93 99.60 71.40C100.17 71.70 100.70 70.17 101.00 69.60C101.50 68.63 102.02 67.03 102.40 66.00C102.84 64.79 103.49 62.92 103.90 61.70C104.31 60.49 104.87 58.61 105.30 57.40C105.66 56.39 106.24 54.86 106.70 53.90C106.92 53.44 107.23 52.60 107.70 52.40C108.00 52.27 108.44 52.82 108.60 53.10C108.92 53.67 108.73 54.98 109.30 55.30C109.69 55.52 109.84 54.31 110.00 53.90C110.32 53.09 110.64 51.79 111.00 51.00C111.32 50.28 111.84 49.16 112.40 48.60C112.72 48.28 113.46 48.02 113.90 48.10C114.38 48.18 114.98 48.73 115.30 49.10C115.79 49.68 116.31 50.75 116.70 51.40C116.99 51.88 117.23 52.80 117.70 53.10C118.04 53.31 118.71 52.79 119.10 52.90C119.59 53.04 120.21 53.57 120.60 53.90C121.03 54.26 121.60 54.90 122.00 55.30C122.40 55.70 122.95 56.37 123.40 56.70C123.78 56.98 124.57 57.07 124.90 57.40C125.42 57.92 126.01 58.92 126.30 59.60C126.81 60.78 127.33 62.67 127.70 63.90C128.06 65.08 128.52 66.92 128.90 68.10C129.17 68.94 129.71 70.17 130.00 71.00C130.33 71.93 130.86 73.34 131.10 74.30C131.45 75.70 131.82 77.88 132.10 79.30C132.38 80.72 132.83 82.88 133.10 84.30C133.37 85.71 133.63 87.91 134.00 89.30C134.17 89.94 134.50 90.97 135.00 91.40C135.30 91.66 136.17 91.08 136.40 91.40C136.90 92.08 136.93 93.47 137.10 94.30C137.35 95.51 137.70 97.38 137.90 98.60C138.13 100.01 138.30 102.20 138.60 103.60C138.82 104.62 139.27 106.15 139.70 107.10C140.10 107.98 141.00 109.17 141.50 110.00C141.93 110.70 142.63 111.76 143.00 112.50C143.62 113.75 144.34 115.77 145.00 117.00C145.48 117.90 146.58 119.07 147.00 120.00C147.61 121.36 148.20 123.57 148.60 125.00C148.99 126.40 149.47 128.58 149.80 130.00C150.06 131.13 150.43 132.87 150.70 134.00C150.88 134.74 151.23 135.86 151.40 136.60C151.85 138.61 152.45 141.69 152.90 143.70C153.27 145.32 153.86 147.80 154.30 149.40C154.74 151.03 155.43 153.51 156.00 155.10C156.45 156.35 157.29 158.21 157.90 159.40C158.43 160.43 159.36 161.94 160.00 162.90C160.55 163.73 161.45 164.95 162.10 165.70C162.67 166.37 163.73 167.23 164.30 167.90C164.95 168.65 165.80 169.91 166.40 170.70C167.02 171.52 167.90 172.84 168.60 173.60C169.13 174.18 170.08 174.92 170.70 175.40C171.30 175.86 172.25 176.52 172.90 176.90C173.47 177.23 174.36 177.75 175.00 177.90C175.58 178.04 176.51 177.97 177.10 177.90C177.73 177.83 178.66 177.40 179.30 177.40C179.91 177.40 180.88 177.58 181.40 177.90C182.14 178.35 183.04 179.35 183.60 180.00C184.26 180.77 185.09 182.09 185.70 182.90C186.31 183.71 187.29 184.89 187.90 185.70C188.51 186.51 189.35 187.82 190.00 188.60C190.54 189.24 191.50 190.10 192.10 190.70C192.72 191.32 193.74 192.22 194.30 192.90C194.74 193.44 195.24 194.40 195.60 195.00C196.04 195.73 196.67 196.86 197.10 197.60C197.92 199.02 199.12 201.22 200.00 202.60C200.76 203.80 201.94 205.65 202.90 206.70C203.38 207.23 204.30 208.22 205.00 208.10C205.79 207.96 206.56 206.73 206.90 206.00C207.61 204.47 208.21 201.94 208.60 200.30C209.09 198.28 209.60 195.14 210.00 193.10C210.39 191.09 211.07 188.02 211.40 186.00C211.63 184.59 211.81 182.41 212.00 181.00C212.09 180.32 212.32 179.29 212.40 178.60C212.72 175.77 213.11 171.43 213.40 168.60C213.65 166.16 214.04 162.44 214.30 160.00C214.49 158.21 214.80 155.49 215.00 153.70C215.40 150.07 215.97 144.52 216.40 140.90C216.79 137.64 217.49 132.66 217.90 129.40C218.17 127.30 218.49 124.09 218.80 122.00C219.03 120.41 219.37 117.95 219.80 116.40C220.00 115.67 220.30 114.30 221.00 114.00C221.58 113.75 222.55 114.55 223.00 115.00C223.72 115.72 224.64 117.04 225.00 118.00C225.62 119.63 226.08 122.28 226.40 124.00C226.82 126.25 227.27 129.73 227.60 132.00C227.89 133.98 228.25 137.03 228.60 139.00C228.70 139.58 229.04 141.57 229.20 141.00C229.74 139.08 229.76 135.98 230.00 134.00C230.27 131.73 230.55 128.24 231.00 126.00C231.40 123.98 232.35 120.96 233.00 119.00C233.77 116.70 235.05 113.23 236.00 111.00C236.75 109.25 238.14 106.69 239.00 105.00C239.72 103.58 240.75 101.35 241.60 100.00C242.01 99.35 242.68 97.74 243.40 98.00C244.24 98.30 244.24 100.12 244.40 101.00C244.86 103.53 245.33 107.44 245.60 110.00C245.90 112.83 246.17 117.17 246.40 120.00C246.63 122.83 246.99 127.17 247.20 130.00C247.45 133.40 247.68 138.61 248.00 142.00C248.19 143.99 248.63 147.03 249.00 149.00C249.37 151.00 250.06 154.04 250.60 156.00C251.08 157.73 251.88 160.36 252.60 162.00C253.13 163.21 254.25 164.91 255.00 166.00C255.62 166.90 256.70 168.16 257.40 169.00C258.12 169.86 259.16 171.25 260.00 172.00C260.76 172.68 262.11 173.50 263.00 174.00C263.82 174.46 265.11 175.10 266.00 175.40C266.82 175.67 268.15 175.85 269.00 176.00C270.13 176.19 271.86 176.46 273.00 176.60C274.13 176.74 275.87 176.89 277.00 177.00C278.13 177.11 279.87 177.26 281.00 177.40C282.14 177.54 283.87 177.83 285.00 178.00C286.13 178.17 287.86 178.46 289.00 178.60C290.13 178.74 291.87 178.86 293.00 179.00C294.14 179.14 295.88 179.38 297.00 179.60C297.86 179.77 299.14 180.23 300.00 180.40C300.84 180.57 302.17 180.58 303.00 180.80C303.88 181.04 305.19 181.57 306.00 182.00C306.90 182.48 308.09 183.53 309.00 184.00C309.52 184.27 310.49 184.90 311.00 184.60C311.72 184.18 312.16 182.80 312.40 182.00C312.90 180.34 313.20 177.69 313.60 176.00C313.94 174.57 314.39 172.34 315.00 171.00C315.37 170.20 316.15 168.85 317.00 168.60C317.54 168.44 318.13 169.51 318.40 170.00C318.99 171.07 318.96 173.35 320.00 174.00C320.62 174.38 321.12 172.54 321.60 172.00C321.97 171.58 322.45 170.72 323.00 170.60C323.45 170.50 324.10 171.05 324.40 171.40C325.09 172.21 325.85 173.69 326.40 174.60C326.98 175.56 327.75 177.09 328.40 178.00C329.06 178.91 330.08 180.35 331.00 181.00C331.73 181.52 333.13 181.80 334.00 182.00C335.12 182.26 336.86 182.46 338.00 182.60C339.13 182.74 340.87 182.89 342.00 183.00C343.13 183.11 344.87 183.30 346.00 183.40C346.74 183.47 347.86 183.54 348.60 183.60" stroke="#9467bd"/>
<path d="M40.60 181.00C40.66 179.02 40.66 175.98 40.80 174.00C40.89 172.74 40.92 170.76 41.40 169.60C41.58 169.17 42.53 169.19 42.90 168.90C43.57 168.36 44.45 167.36 45.00 166.70C45.64 165.94 46.43 164.63 47.10 163.90C47.55 163.41 48.24 162.50 48.90 162.40C49.38 162.32 49.98 163.04 50.30 163.40C50.90 164.07 51.53 165.31 52.10 166.00C52.47 166.45 53.04 167.25 53.60 167.40C53.96 167.50 54.49 167.00 54.70 166.70C55.19 165.98 55.69 164.72 56.00 163.90C56.46 162.70 56.94 160.80 57.40 159.60C57.77 158.64 58.35 157.17 58.90 156.30C59.19 155.84 59.77 155.13 60.30 155.00C61.02 154.82 62.16 155.20 62.90 155.30C63.69 155.40 64.90 155.60 65.70 155.70C66.52 155.80 67.78 155.96 68.60 156.00C69.39 156.04 70.61 156.04 71.40 156.00C72.22 155.96 73.48 155.80 74.30 155.70C75.10 155.60 76.31 155.41 77.10 155.30C77.92 155.18 79.19 155.06 80.00 154.90C80.61 154.78 81.50 154.47 82.10 154.30C82.52 154.18 83.16 153.85 83.60 153.90C84.04 153.95 84.62 154.36 85.00 154.60C85.31 154.79 85.65 155.29 86.00 155.40C86.99 155.70 88.58 155.84 89.60 156.00C90.39 156.12 91.81 155.85 92.40 156.40C93.21 157.15 93.52 158.96 93.90 160.00C94.34 161.20 94.82 163.11 95.30 164.30C95.73 165.36 96.38 167.01 97.10 167.90C97.51 168.40 98.46 168.94 99.10 169.00C99.78 169.06 100.80 168.62 101.40 168.30C102.18 167.88 103.19 166.94 103.90 166.40C104.69 165.80 105.91 164.90 106.70 164.30C107.52 163.68 108.78 162.72 109.60 162.10C110.39 161.50 111.55 160.52 112.40 160.00C113.18 159.52 114.46 158.95 115.30 158.60C116.08 158.27 117.28 157.79 118.10 157.60C119.10 157.37 120.67 157.17 121.70 157.10C122.72 157.03 124.29 156.99 125.30 157.10C126.34 157.22 127.91 157.56 128.90 157.90C129.74 158.19 130.97 158.79 131.70 159.30C132.41 159.79 133.34 160.75 133.90 161.40C134.56 162.17 135.43 163.46 136.00 164.30C136.20 164.59 136.35 165.14 136.60 165.40C137.22 166.04 138.20 167.02 139.00 167.40C139.78 167.78 141.15 167.83 142.00 168.00C142.85 168.17 144.15 168.42 145.00 168.60C146.42 168.90 148.58 169.39 150.00 169.70C150.82 169.88 152.07 170.16 152.90 170.30C153.69 170.44 154.90 170.70 155.70 170.70C156.33 170.70 157.27 170.30 157.90 170.30C158.51 170.30 159.44 170.46 160.00 170.70C160.66 170.98 161.55 171.64 162.10 172.10C162.78 172.67 163.73 173.63 164.30 174.30C164.95 175.05 165.80 176.31 166.40 177.10C167.02 177.92 167.93 179.22 168.60 180.00C169.15 180.64 169.94 181.73 170.70 182.10C171.26 182.37 172.28 182.20 172.90 182.10C173.52 182.00 174.39 181.26 175.00 181.40C175.57 181.53 176.11 182.40 176.40 182.90C176.94 183.83 177.45 185.42 177.90 186.40C178.28 187.23 178.69 188.62 179.30 189.30C179.74 189.79 180.75 190.19 181.40 190.30C182.02 190.40 183.01 190.23 183.60 190.00C184.27 189.74 185.15 189.06 185.70 188.60C186.38 188.03 187.17 186.89 187.90 186.40C188.42 186.05 189.37 185.70 190.00 185.70C190.44 185.70 190.97 186.30 191.40 186.40C191.81 186.50 192.52 186.58 192.90 186.40C193.41 186.16 193.95 185.44 194.30 185.00C194.75 184.44 195.13 183.33 195.70 182.90C196.27 182.47 197.38 182.15 198.10 182.10C198.74 182.06 199.72 182.34 200.30 182.60C200.95 182.89 201.84 183.56 202.40 184.00C203.06 184.52 204.00 185.40 204.60 186.00C205.22 186.62 206.08 187.68 206.70 188.30C207.30 188.90 208.27 189.74 208.90 190.30C209.49 190.82 210.41 191.58 211.00 192.10C211.60 192.63 212.47 193.50 213.10 194.00C213.61 194.41 214.41 195.02 215.00 195.30C215.78 195.68 217.06 196.07 217.90 196.30C218.68 196.52 219.90 196.75 220.70 196.90C221.52 197.06 222.78 197.23 223.60 197.40C224.40 197.57 225.60 197.93 226.40 198.10C227.22 198.27 228.47 198.53 229.30 198.60C230.09 198.67 231.31 198.56 232.10 198.60C232.92 198.64 234.19 198.74 235.00 198.90C235.62 199.02 236.52 199.37 237.10 199.60C237.74 199.85 238.66 200.35 239.30 200.60C239.88 200.83 240.78 201.19 241.40 201.30C242.01 201.41 242.98 201.44 243.60 201.40C244.20 201.36 245.11 201.15 245.70 201.00C246.33 200.84 247.26 200.44 247.90 200.30C248.68 200.13 249.90 199.98 250.70 199.90C251.52 199.81 252.78 199.74 253.60 199.70C254.39 199.66 255.61 199.59 256.40 199.60C257.22 199.61 258.48 199.72 259.30 199.80C260.92 199.95 263.38 200.37 265.00 200.40C266.22 200.42 268.08 200.04 269.30 200.00C270.52 199.96 272.39 199.96 273.60 200.10C274.84 200.24 276.72 200.61 277.90 201.00C279.14 201.41 280.90 202.39 282.10 202.90C283.31 203.41 285.17 204.16 286.40 204.60C287.61 205.03 289.47 205.64 290.70 206.00C291.91 206.35 293.77 206.83 295.00 207.10C296.21 207.37 298.07 207.74 299.30 207.90C300.51 208.05 302.38 208.16 303.60 208.20C304.82 208.24 306.68 208.11 307.90 208.20C308.70 208.26 309.92 208.49 310.70 208.70C311.54 208.92 312.80 209.35 313.60 209.70C314.17 209.95 314.98 210.45 315.50 210.80C315.95 211.10 316.52 211.74 317.00 212.00C317.81 212.43 319.12 212.95 320.00 213.20C321.11 213.52 322.87 213.77 324.00 214.00C325.13 214.23 326.85 214.67 328.00 214.80C329.13 214.93 330.87 214.86 332.00 214.90C333.13 214.94 334.87 215.03 336.00 215.10C337.13 215.17 338.87 215.31 340.00 215.40C341.13 215.49 342.87 215.59 344.00 215.70C345.31 215.82 347.30 216.06 348.60 216.20" stroke="#8c564b"/>
<path d="M39.85 189.9H348.6" stroke="#808080" stroke-dasharray="5.7 3.453"/>
</g>
<rect x="40.0" y="1.5" width="308.6" height="230.5" fill="none" stroke="#000" stroke-width="0.72"/>
<g stroke="#000" stroke-width="0.8">
<path d="M78.1 232.0v3.3"/>
<path d="M123.7 232.0v3.3"/>
<path d="M169.3 232.0v3.3"/>
<path d="M214.9 232.0v3.3"/>
<path d="M260.5 232.0v3.3"/>
<path d="M306.1 232.0v3.3"/>
<path d="M40.0 224.6h-3.3"/>
<path d="M40.0 189.9h-3.3"/>
<path d="M40.0 155.2h-3.3"/>
<path d="M40.0 120.5h-3.3"/>
<path d="M40.0 85.8h-3.3"/>
<path d="M40.0 51.1h-3.3"/>
<path d="M40.0 16.4h-3.3"/>
</g>
<g font-size="8.65" text-anchor="middle">
<text x="78.1" y="245.1">2</text>
<text x="123.7" y="245.1">4</text>
<text x="169.3" y="245.1">6</text>
<text x="214.9" y="245.1">8</text>
<text x="260.5" y="245.1">10</text>
<text x="306.1" y="245.1">12</text>
</g>
<g font-size="8.65" text-anchor="end">
<text x="33.5" y="227.7">0.0</text>
<text x="33.5" y="193.0">0.1</text>
<text x="33.5" y="158.3">0.2</text>
<text x="33.5" y="123.6">0.3</text>
<text x="33.5" y="88.9">0.4</text>
<text x="33.5" y="54.2">0.5</text>
<text x="33.5" y="19.5">0.6</text>
</g>
<text x="194.75" y="262.2" font-size="15.3" letter-spacing="0.27" text-anchor="middle">Wavelength (<tspan font-style="italic">μ</tspan>m)</text>
<text transform="translate(14.1 117.2) rotate(-90)" font-size="15.3" text-anchor="middle">Albedo</text>
<rect x="263.2" y="5.4" width="81.5" height="91.3" rx="1.8" fill="#fff" fill-opacity="0.8" stroke="#ccc" stroke-opacity="0.8" stroke-width="0.9"/>
<path d="M266.5 12.4H285.4" stroke="#1f77b4" stroke-width="1.62" fill="none"/>
<text x="291.6" y="15.9" font-size="8.65">Metal-rich</text>
<path d="M266.5 25.1H285.4" stroke="#ff7f0e" stroke-width="1.62" fill="none"/>
<text x="291.6" y="28.6" font-size="8.65">Ultramafic</text>
<path d="M266.5 37.8H285.4" stroke="#2ca02c" stroke-width="1.62" fill="none"/>
<text x="291.6" y="41.3" font-size="8.65">Feldspathic</text>
<path d="M266.5 50.5H285.4" stroke="#d62728" stroke-width="1.62" fill="none"/>
<text x="291.6" y="54.0" font-size="8.65">Basaltic</text>
<path d="M266.5 63.2H285.4" stroke="#9467bd" stroke-width="1.62" fill="none"/>
<text x="291.6" y="66.7" font-size="8.65">Granitoid</text>
<path d="M266.5 75.9H285.4" stroke="#8c564b" stroke-width="1.62" fill="none"/>
<text x="291.6" y="79.4" font-size="8.65">Fe-oxidized</text>
<path d="M266.9 88.6H283.1" stroke="#808080" stroke-width="1.62" stroke-dasharray="6.2 3.4" fill="none"/>
<text x="291.6" y="92.1" font-size="8.65">Grey</text>
</svg></body></html>
